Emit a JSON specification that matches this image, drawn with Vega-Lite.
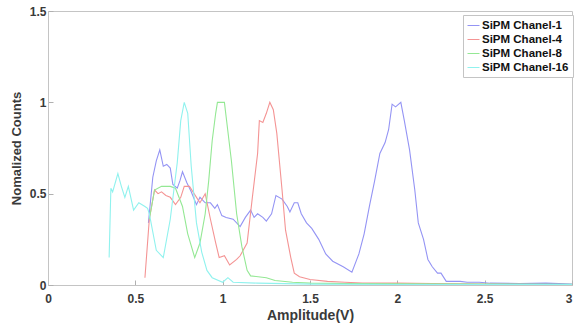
{
  "$schema": "https://vega.github.io/schema/vega-lite/v6.json",
  "width": 524,
  "height": 274,
  "autosize": {"type": "none"},
  "padding": {"left": 48, "top": 11, "right": 2, "bottom": 44},
  "background": "white",
  "config": {
    "view": {"stroke": "#c4c4c4", "strokeWidth": 1},
    "font": "Liberation Sans",
    "axis": {
      "grid": false,
      "domainColor": "#c4c4c4",
      "tickColor": "#b0b0b0",
      "tickSize": -5,
      "labelFont": "Liberation Sans",
      "labelFontWeight": "bold",
      "labelFontSize": 12,
      "labelColor": "#3a3a3a",
      "titleFont": "Liberation Sans",
      "titleFontWeight": "bold",
      "titleColor": "#3a3a3a"
    }
  },
  "data": {"values": [
    {"s":"SiPM Chanel-1","x":0.575,"y":0.34},{"s":"SiPM Chanel-1","x":0.60,"y":0.59},{"s":"SiPM Chanel-1","x":0.62,"y":0.68},{"s":"SiPM Chanel-1","x":0.64,"y":0.74},{"s":"SiPM Chanel-1","x":0.66,"y":0.65},{"s":"SiPM Chanel-1","x":0.68,"y":0.66},{"s":"SiPM Chanel-1","x":0.70,"y":0.64},{"s":"SiPM Chanel-1","x":0.715,"y":0.55},{"s":"SiPM Chanel-1","x":0.74,"y":0.53},{"s":"SiPM Chanel-1","x":0.755,"y":0.57},{"s":"SiPM Chanel-1","x":0.77,"y":0.62},{"s":"SiPM Chanel-1","x":0.795,"y":0.56},{"s":"SiPM Chanel-1","x":0.82,"y":0.51},{"s":"SiPM Chanel-1","x":0.85,"y":0.44},{"s":"SiPM Chanel-1","x":0.87,"y":0.48},{"s":"SiPM Chanel-1","x":0.90,"y":0.45},{"s":"SiPM Chanel-1","x":0.93,"y":0.45},{"s":"SiPM Chanel-1","x":0.955,"y":0.42},{"s":"SiPM Chanel-1","x":0.97,"y":0.44},{"s":"SiPM Chanel-1","x":0.995,"y":0.38},{"s":"SiPM Chanel-1","x":1.02,"y":0.37},{"s":"SiPM Chanel-1","x":1.06,"y":0.36},{"s":"SiPM Chanel-1","x":1.10,"y":0.32},{"s":"SiPM Chanel-1","x":1.13,"y":0.37},{"s":"SiPM Chanel-1","x":1.16,"y":0.41},{"s":"SiPM Chanel-1","x":1.18,"y":0.37},{"s":"SiPM Chanel-1","x":1.20,"y":0.39},{"s":"SiPM Chanel-1","x":1.23,"y":0.37},{"s":"SiPM Chanel-1","x":1.25,"y":0.35},{"s":"SiPM Chanel-1","x":1.28,"y":0.39},{"s":"SiPM Chanel-1","x":1.305,"y":0.49},{"s":"SiPM Chanel-1","x":1.34,"y":0.47},{"s":"SiPM Chanel-1","x":1.37,"y":0.43},{"s":"SiPM Chanel-1","x":1.385,"y":0.40},{"s":"SiPM Chanel-1","x":1.41,"y":0.45},{"s":"SiPM Chanel-1","x":1.43,"y":0.45},{"s":"SiPM Chanel-1","x":1.45,"y":0.39},{"s":"SiPM Chanel-1","x":1.48,"y":0.34},{"s":"SiPM Chanel-1","x":1.51,"y":0.31},{"s":"SiPM Chanel-1","x":1.55,"y":0.25},{"s":"SiPM Chanel-1","x":1.59,"y":0.17},{"s":"SiPM Chanel-1","x":1.63,"y":0.13},{"s":"SiPM Chanel-1","x":1.69,"y":0.10},{"s":"SiPM Chanel-1","x":1.74,"y":0.07},{"s":"SiPM Chanel-1","x":1.78,"y":0.17},{"s":"SiPM Chanel-1","x":1.81,"y":0.28},{"s":"SiPM Chanel-1","x":1.84,"y":0.43},{"s":"SiPM Chanel-1","x":1.87,"y":0.57},{"s":"SiPM Chanel-1","x":1.90,"y":0.72},{"s":"SiPM Chanel-1","x":1.93,"y":0.78},{"s":"SiPM Chanel-1","x":1.95,"y":0.85},{"s":"SiPM Chanel-1","x":1.97,"y":0.99},{"s":"SiPM Chanel-1","x":1.99,"y":0.975},{"s":"SiPM Chanel-1","x":2.02,"y":1.0},{"s":"SiPM Chanel-1","x":2.04,"y":0.90},{"s":"SiPM Chanel-1","x":2.07,"y":0.74},{"s":"SiPM Chanel-1","x":2.10,"y":0.52},{"s":"SiPM Chanel-1","x":2.12,"y":0.34},{"s":"SiPM Chanel-1","x":2.15,"y":0.25},{"s":"SiPM Chanel-1","x":2.175,"y":0.14},{"s":"SiPM Chanel-1","x":2.20,"y":0.10},{"s":"SiPM Chanel-1","x":2.23,"y":0.065},{"s":"SiPM Chanel-1","x":2.25,"y":0.065},{"s":"SiPM Chanel-1","x":2.28,"y":0.02},{"s":"SiPM Chanel-1","x":2.36,"y":0.02},{"s":"SiPM Chanel-1","x":2.40,"y":0.015},{"s":"SiPM Chanel-1","x":2.47,"y":0.015},{"s":"SiPM Chanel-1","x":2.53,"y":0.01},{"s":"SiPM Chanel-1","x":2.7,"y":0.008},{"s":"SiPM Chanel-1","x":2.85,"y":0.01},{"s":"SiPM Chanel-1","x":3.0,"y":0.005},
    {"s":"SiPM Chanel-4","x":0.555,"y":0.04},{"s":"SiPM Chanel-4","x":0.58,"y":0.36},{"s":"SiPM Chanel-4","x":0.61,"y":0.52},{"s":"SiPM Chanel-4","x":0.63,"y":0.50},{"s":"SiPM Chanel-4","x":0.65,"y":0.51},{"s":"SiPM Chanel-4","x":0.675,"y":0.49},{"s":"SiPM Chanel-4","x":0.70,"y":0.48},{"s":"SiPM Chanel-4","x":0.73,"y":0.44},{"s":"SiPM Chanel-4","x":0.76,"y":0.48},{"s":"SiPM Chanel-4","x":0.78,"y":0.54},{"s":"SiPM Chanel-4","x":0.81,"y":0.54},{"s":"SiPM Chanel-4","x":0.83,"y":0.51},{"s":"SiPM Chanel-4","x":0.87,"y":0.45},{"s":"SiPM Chanel-4","x":0.90,"y":0.50},{"s":"SiPM Chanel-4","x":0.93,"y":0.36},{"s":"SiPM Chanel-4","x":0.96,"y":0.23},{"s":"SiPM Chanel-4","x":0.98,"y":0.15},{"s":"SiPM Chanel-4","x":1.01,"y":0.16},{"s":"SiPM Chanel-4","x":1.04,"y":0.11},{"s":"SiPM Chanel-4","x":1.08,"y":0.14},{"s":"SiPM Chanel-4","x":1.10,"y":0.16},{"s":"SiPM Chanel-4","x":1.14,"y":0.23},{"s":"SiPM Chanel-4","x":1.17,"y":0.48},{"s":"SiPM Chanel-4","x":1.20,"y":0.72},{"s":"SiPM Chanel-4","x":1.21,"y":0.90},{"s":"SiPM Chanel-4","x":1.23,"y":0.89},{"s":"SiPM Chanel-4","x":1.25,"y":0.94},{"s":"SiPM Chanel-4","x":1.27,"y":1.0},{"s":"SiPM Chanel-4","x":1.29,"y":0.96},{"s":"SiPM Chanel-4","x":1.31,"y":0.83},{"s":"SiPM Chanel-4","x":1.34,"y":0.52},{"s":"SiPM Chanel-4","x":1.36,"y":0.30},{"s":"SiPM Chanel-4","x":1.39,"y":0.15},{"s":"SiPM Chanel-4","x":1.41,"y":0.065},{"s":"SiPM Chanel-4","x":1.44,"y":0.045},{"s":"SiPM Chanel-4","x":1.50,"y":0.03},{"s":"SiPM Chanel-4","x":1.6,"y":0.02},{"s":"SiPM Chanel-4","x":1.7,"y":0.015},{"s":"SiPM Chanel-4","x":1.8,"y":0.01},{"s":"SiPM Chanel-4","x":2.0,"y":0.01},{"s":"SiPM Chanel-4","x":2.2,"y":0.008},{"s":"SiPM Chanel-4","x":2.5,"y":0.005},{"s":"SiPM Chanel-4","x":3.0,"y":0.003},
    {"s":"SiPM Chanel-8","x":0.58,"y":0.36},{"s":"SiPM Chanel-8","x":0.61,"y":0.52},{"s":"SiPM Chanel-8","x":0.65,"y":0.54},{"s":"SiPM Chanel-8","x":0.70,"y":0.54},{"s":"SiPM Chanel-8","x":0.73,"y":0.53},{"s":"SiPM Chanel-8","x":0.77,"y":0.43},{"s":"SiPM Chanel-8","x":0.80,"y":0.28},{"s":"SiPM Chanel-8","x":0.84,"y":0.15},{"s":"SiPM Chanel-8","x":0.87,"y":0.23},{"s":"SiPM Chanel-8","x":0.90,"y":0.39},{"s":"SiPM Chanel-8","x":0.92,"y":0.57},{"s":"SiPM Chanel-8","x":0.94,"y":0.79},{"s":"SiPM Chanel-8","x":0.96,"y":0.94},{"s":"SiPM Chanel-8","x":0.97,"y":1.0},{"s":"SiPM Chanel-8","x":1.01,"y":1.0},{"s":"SiPM Chanel-8","x":1.02,"y":0.92},{"s":"SiPM Chanel-8","x":1.05,"y":0.68},{"s":"SiPM Chanel-8","x":1.08,"y":0.39},{"s":"SiPM Chanel-8","x":1.11,"y":0.21},{"s":"SiPM Chanel-8","x":1.14,"y":0.08},{"s":"SiPM Chanel-8","x":1.16,"y":0.05},{"s":"SiPM Chanel-8","x":1.25,"y":0.04},{"s":"SiPM Chanel-8","x":1.3,"y":0.025},{"s":"SiPM Chanel-8","x":1.4,"y":0.015},{"s":"SiPM Chanel-8","x":1.5,"y":0.01},{"s":"SiPM Chanel-8","x":1.7,"y":0.008},{"s":"SiPM Chanel-8","x":2.0,"y":0.006},{"s":"SiPM Chanel-8","x":2.5,"y":0.005},{"s":"SiPM Chanel-8","x":3.0,"y":0.004},
    {"s":"SiPM Chanel-16","x":0.35,"y":0.15},{"s":"SiPM Chanel-16","x":0.36,"y":0.53},{"s":"SiPM Chanel-16","x":0.37,"y":0.51},{"s":"SiPM Chanel-16","x":0.40,"y":0.61},{"s":"SiPM Chanel-16","x":0.42,"y":0.54},{"s":"SiPM Chanel-16","x":0.44,"y":0.48},{"s":"SiPM Chanel-16","x":0.46,"y":0.54},{"s":"SiPM Chanel-16","x":0.49,"y":0.41},{"s":"SiPM Chanel-16","x":0.52,"y":0.45},{"s":"SiPM Chanel-16","x":0.555,"y":0.43},{"s":"SiPM Chanel-16","x":0.57,"y":0.42},{"s":"SiPM Chanel-16","x":0.58,"y":0.39},{"s":"SiPM Chanel-16","x":0.62,"y":0.19},{"s":"SiPM Chanel-16","x":0.66,"y":0.15},{"s":"SiPM Chanel-16","x":0.70,"y":0.36},{"s":"SiPM Chanel-16","x":0.74,"y":0.67},{"s":"SiPM Chanel-16","x":0.76,"y":0.90},{"s":"SiPM Chanel-16","x":0.78,"y":1.0},{"s":"SiPM Chanel-16","x":0.80,"y":0.94},{"s":"SiPM Chanel-16","x":0.82,"y":0.65},{"s":"SiPM Chanel-16","x":0.85,"y":0.34},{"s":"SiPM Chanel-16","x":0.88,"y":0.18},{"s":"SiPM Chanel-16","x":0.91,"y":0.08},{"s":"SiPM Chanel-16","x":0.94,"y":0.04},{"s":"SiPM Chanel-16","x":1.0,"y":0.015},{"s":"SiPM Chanel-16","x":1.03,"y":0.04},{"s":"SiPM Chanel-16","x":1.06,"y":0.015},{"s":"SiPM Chanel-16","x":1.2,"y":0.01},{"s":"SiPM Chanel-16","x":1.5,"y":0.005},{"s":"SiPM Chanel-16","x":2.0,"y":0.003},{"s":"SiPM Chanel-16","x":3.0,"y":0.002}
  ]},
  "mark": {"type": "line", "strokeWidth": 1.1, "clip": true},
  "encoding": {
    "x": {"field": "x", "type": "quantitative", "title": "Amplitude(V)",
          "scale": {"domain": [0, 3], "nice": false},
          "axis": {"values": [0, 0.5, 1, 1.5, 2, 2.5, 3], "format": "~g", "labelPadding": 13, "titleFontSize": 14, "titlePadding": 4, "labelFlush": false,
                   "labelAlign": {"condition": {"test": "datum.value == 3", "value": "right"}, "value": "center"}}},
    "y": {"field": "y", "type": "quantitative", "title": "Nomalized Counts",
          "scale": {"domain": [0, 1.5], "nice": false},
          "axis": {"values": [0, 0.5, 1, 1.5], "format": "~g", "labelPadding": 7, "titleFontSize": 13, "titlePadding": 6}},
    "color": {"field": "s", "type": "nominal", "title": null,
      "scale": {"domain": ["SiPM Chanel-1", "SiPM Chanel-4", "SiPM Chanel-8", "SiPM Chanel-16"],
                "range": ["#9494f4", "#f49494", "#94e894", "#90f2ee"]},
      "legend": {"orient": "none", "legendX": 415, "legendY": 4, "symbolType": "stroke", "symbolSize": 144, "symbolStrokeWidth": 1,
                 "labelFont": "Liberation Sans", "labelFontWeight": "bold", "labelFontSize": 11.5, "labelColor": "#111111",
                 "strokeColor": "#c4c4c4", "fillColor": "white", "padding": 4, "rowPadding": 2, "labelOffset": 2}}
  }
}
